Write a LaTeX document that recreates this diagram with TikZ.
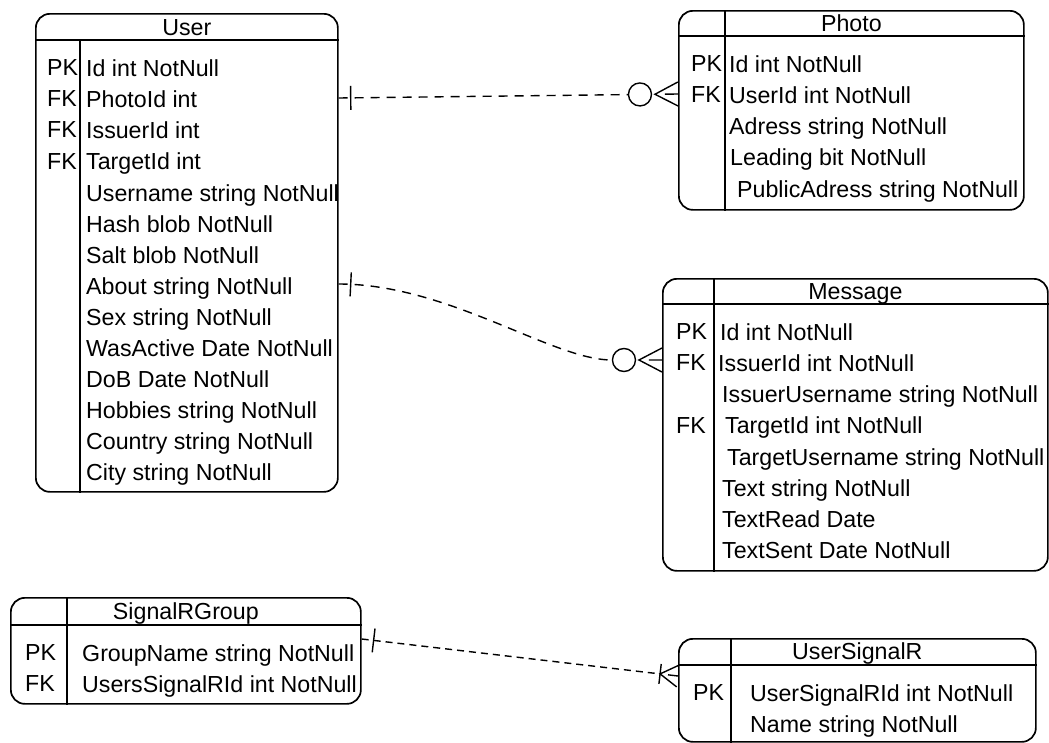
\documentclass[tikz,border=0pt]{standalone}
\usepackage{fontspec}
\setmainfont{Liberation Sans}
\usepackage{tikz}
\usetikzlibrary{positioning, calc, decorations.markings}

\tikzset{
  tbl/.style={draw, line width=1.7pt, rounded corners=14pt, anchor=north west, inner sep=0pt},
  sep/.style={line width=1.5pt},
  ttl/.style={font=\fontsize{23.2}{31.1}\selectfont, inner sep=0pt, text height=16.5pt, text depth=0pt},
  col/.style={font=\fontsize{23.2}{31.1}\selectfont, align=left, anchor=north west, inner sep=0pt},
  rel/.style={line width=1.4pt, dash pattern=on 9pt off 7pt},
  mk/.style={solid, line width=1.4pt, shorten >=0pt, shorten <=0pt},
  one start/.style={postaction={decorate, decoration={markings,
      mark=at position 12pt with {\draw[mk] (0,-12) -- (0,12);}}}},
  zero many end/.style={shorten >=50pt, postaction={decorate, decoration={markings,
      mark=at position 0.9999 with {\draw[mk] (-38,0) circle (11.5);
        \draw[mk] (0,12) -- (-23,0) -- (0,-12) (-13,0) -- (0,0);}}}},
  one many end/.style={shorten >=18pt, postaction={decorate, decoration={markings,
      mark=at position 0.9999 with {\draw[mk] (-18,-10) -- (-18,10);
        \draw[mk] (0,11) -- (-18,0) -- (0,-11) (-10,0) -- (0,0);}}}},
}

\begin{document}
\begin{tikzpicture}[x=1pt, y=-1pt]
  \useasboundingbox (0,0) rectangle (1049,742);

  % User
  \node[tbl, minimum width=302pt, minimum height=478pt] (user) at (35,13) {};
  \node[ttl] (userT) at ($(user.north)+(0,14)$) {User};
  \draw[sep] ($(user.north west)+(0,27)$) -- ($(user.north east)+(0,27)$);
  \draw[sep] ($(user.north west)+(45,27)$) -- ($(user.south west)+(45,0)$);
  \node[col] (userK) at ($(user.north west)+(12,46.6)$) {PK\\FK\\FK\\FK};
  \node[col] (userF) at ($(user.north west)+(51,46.6)$) {
    Id int NotNull\\
    PhotoId int\\
    IssuerId int\\
    TargetId int\\
    Username string NotNull\\
    Hash blob NotNull\\
    Salt blob NotNull\\
    About string NotNull\\
    Sex string NotNull\\
    WasActive Date NotNull\\
    DoB Date NotNull\\
    Hobbies string NotNull\\
    Country string NotNull\\
    City string NotNull
  };

  % Photo
  \node[tbl, minimum width=345pt, minimum height=199pt] (photo) at (678,10) {};
  \node[ttl] (photoT) at ($(photo.north)+(0,13)$) {Photo};
  \draw[sep] ($(photo.north west)+(0,26)$) -- ($(photo.north east)+(0,26)$);
  \draw[sep] ($(photo.north west)+(47,0)$) -- ($(photo.south west)+(47,0)$);
  \node[col] (photoK) at ($(photo.north west)+(13,45.6)$) {PK\\FK};
  \node[col] (photoF) at ($(photo.north west)+(51,45.6)$) {
    Id int NotNull\\
    UserId int NotNull\\
    Adress string NotNull\\
    \hspace*{1pt}Leading bit NotNull\\
    \hspace*{8pt}PublicAdress string NotNull
  };

  % Message
  \node[tbl, minimum width=385pt, minimum height=292pt] (msg) at (662,278) {};
  \node[ttl] (msgT) at ($(msg.north)+(0,13.5)$) {Message};
  \draw[sep] ($(msg.north west)+(0,26)$) -- ($(msg.north east)+(0,26)$);
  \draw[sep] ($(msg.north west)+(52,0)$) -- ($(msg.south west)+(52,0)$);
  \node[col] (msgK) at ($(msg.north west)+(14,45.6)$) {PK\\FK\\\mbox{}\\FK};
  \node[col] (msgF) at ($(msg.north west)+(56,45.6)$) {
    \hspace*{2pt}Id int NotNull\\
    IssuerId int NotNull\\
    \hspace*{4pt}IssuerUsername string NotNull\\
    \hspace*{7pt}TargetId int NotNull\\
    \hspace*{9pt}TargetUsername string NotNull\\
    \hspace*{4pt}Text string NotNull\\
    \hspace*{4pt}TextRead Date\\
    \hspace*{4pt}TextSent Date NotNull
  };

  % SignalRGroup
  \node[tbl, minimum width=350pt, minimum height=106pt] (sgroup) at (10,597) {};
  \node[ttl] (sgroupT) at ($(sgroup.north)+(0,14)$) {SignalRGroup};
  \draw[sep] ($(sgroup.north west)+(0,28)$) -- ($(sgroup.north east)+(0,28)$);
  \draw[sep] ($(sgroup.north west)+(57,0)$) -- ($(sgroup.south west)+(57,0)$);
  \node[col] (sgroupK) at ($(sgroup.north west)+(15,47.6)$) {PK\\FK};
  \node[col] (sgroupF) at ($(sgroup.north west)+(72,47.6)$) {
    GroupName string NotNull\\
    UsersSignalRId int NotNull
  };

  % UserSignalR
  \node[tbl, minimum width=357pt, minimum height=103pt] (usig) at (678,638) {};
  \node[ttl] (usigT) at ($(usig.north)+(0,13.5)$) {UserSignalR};
  \draw[sep] ($(usig.north west)+(0,27)$) -- ($(usig.north east)+(0,27)$);
  \draw[sep] ($(usig.north west)+(53,0)$) -- ($(usig.south west)+(53,0)$);
  \node[col] (usigK) at ($(usig.north west)+(15,46.6)$) {PK};
  \node[col] (usigF) at ($(usig.north west)+(72,46.6)$) {
    UserSignalRId int NotNull\\
    Name string NotNull
  };

  % relations
  \draw[rel, one start, zero many end] ($(user.north east)+(0,85)$) -- ($(photo.north west)+(0,84)$);
  \draw[rel, one start, zero many end] ($(user.north east)+(0,271)$)
    .. controls +(110,0) and +(-110,0) .. ($(msg.north west)+(0,82)$);
  \draw[rel, dash pattern=on 7pt off 5pt, one start, one many end]
    ($(sgroup.north east)+(0,42)$) -- ($(usig.north west)+(0,38)$);
\end{tikzpicture}
\end{document}
